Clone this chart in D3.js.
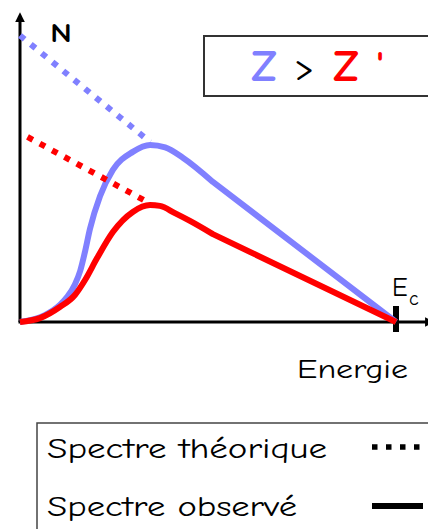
<!DOCTYPE html>
<html>
<head>
<meta charset="utf-8">
<script src="https://cdn.jsdelivr.net/npm/d3@7"></script>
<style>
  body { margin: 0; background: #fff; }
  svg { display: block; }
</style>
</head>
<body>
<div id="chart"></div>
<script>
// energy in % of Ec, N in arbitrary units (0..100)
var blueObserved = [
    [0, 0], [6.6, 2.3], [10.6, 5.7], [12.5, 8.3], [14.6, 12.5], [16, 17],
    [17.3, 23.5], [18.6, 31], [21.3, 42], [24.7, 50.7], [30, 56.7],
    [34.6, 59], [38.6, 58.2], [43.4, 54.7], [51.3, 46.7], [100, 0]
];
var redObserved = [
    [0, 0], [5.3, 1.3], [10.6, 5], [14.6, 9], [17.3, 14], [20.5, 21.3],
    [24.7, 30], [30, 36.7], [34.6, 39], [37.2, 38.7], [41.2, 36.3],
    [45.2, 33.7], [51.3, 29.3], [100, 0]
];
var blueTheoretical = [[0, 95.5], [34.6, 60]];
var redTheoretical = [[2, 61.7], [34.6, 39.5]];
var legendLabels = ["Spectre théorique", "Spectre observé"];
var xLabel = "Energie";
var yLabel = "N";

(function() {
    var width = 428,
        height = 529;

    var font = "'Comic Sans MS','Comic Neue','DejaVu Sans',sans-serif";
    var blue = "#8080ff",
        red = "#ff0000";

    var svg = d3.select("#chart")
        .append("svg")
        .attr("width", width)
        .attr("height", height);

    var x = d3.scaleLinear().domain([0, 100]).range([20, 396]);
    var y = d3.scaleLinear().domain([0, 100]).range([322, 22]);

    var line = d3.line()
        .x(function(d) { return x(d[0]); })
        .y(function(d) { return y(d[1]); });

    var curve = d3.line()
        .x(function(d) { return x(d[0]); })
        .y(function(d) { return y(d[1]); })
        .curve(d3.curveMonotoneX);

    // smooth rise, then a straight drop down to Ec
    var spectrum = function(data) {
        var last = data[data.length - 1];
        return curve(data.slice(0, -1)) + "L" + x(last[0]) + "," + y(last[1]);
    };

    // arrow head for the axes
    svg.append("defs").append("marker")
        .attr("id", "arrow")
        .attr("viewBox", "0 0 10 10")
        .attr("refX", 2)
        .attr("refY", 5)
        .attr("markerWidth", 3.2)
        .attr("markerHeight", 3.2)
        .attr("orient", "auto")
        .append("path")
        .attr("d", "M0,0 L10,5 L0,10 Z")
        .style("fill", "#000");

    // axes
    svg.append("line")
        .attr("x1", x(0)).attr("y1", y(0))
        .attr("x2", x(0)).attr("y2", 20)
        .style("stroke", "#000")
        .style("stroke-width", 3)
        .attr("marker-end", "url(#arrow)");

    svg.append("line")
        .attr("x1", x(0) - 1.5).attr("y1", y(0))
        .attr("x2", 427).attr("y2", y(0))
        .style("stroke", "#000")
        .style("stroke-width", 3)
        .attr("marker-end", "url(#arrow)");

    // Ec tick
    svg.append("line")
        .attr("x1", x(100)).attr("y1", y(0) - 16)
        .attr("x2", x(100)).attr("y2", y(0) + 10)
        .style("stroke", "#000")
        .style("stroke-width", 6);

    // theoretical (dotted)
    svg.append("path")
        .attr("d", line(blueTheoretical))
        .style("fill", "none")
        .style("stroke", blue)
        .style("stroke-width", 6)
        .style("stroke-dasharray", "6,8");

    // observed curves
    svg.append("path")
        .attr("d", spectrum(blueObserved))
        .style("fill", "none")
        .style("stroke", blue)
        .style("stroke-width", 6)
        .style("stroke-linejoin", "round");

    svg.append("path")
        .attr("d", line(redTheoretical))
        .style("fill", "none")
        .style("stroke", red)
        .style("stroke-width", 6)
        .style("stroke-dasharray", "6,8");

    svg.append("path")
        .attr("d", spectrum(redObserved))
        .style("fill", "none")
        .style("stroke", red)
        .style("stroke-width", 6)
        .style("stroke-linejoin", "round");

    // axis labels
    svg.append("text")
        .attr("x", 50).attr("y", 42)
        .attr("textLength", 22)
        .attr("lengthAdjust", "spacingAndGlyphs")
        .style("font-family", font)
        .style("font-size", "27px")
        .style("font-weight", "bold")
        .text(yLabel);

    svg.append("text")
        .attr("x", 297).attr("y", 378)
        .attr("textLength", 111)
        .attr("lengthAdjust", "spacingAndGlyphs")
        .style("font-family", font)
        .style("font-size", "27px")
        .text(xLabel);

    var ec = svg.append("text")
        .attr("x", 392).attr("y", 296)
        .style("font-family", font)
        .style("font-size", "26px");
    ec.append("tspan").text("E");
    ec.append("tspan")
        .attr("x", 409).attr("y", 305)
        .style("font-size", "20px")
        .text("c");

    // Z > Z' box
    svg.append("rect")
        .attr("x", 204).attr("y", 36)
        .attr("width", 250).attr("height", 60)
        .style("fill", "#fff")
        .style("stroke", "#333")
        .style("stroke-width", 2);

    var zParts = [
        { t: "Z", cx: 264, c: blue, w: "bold", s: 44, dy: 81 },
        { t: ">", cx: 304, c: "#000", w: "normal", s: 38, dy: 80 },
        { t: "Z", cx: 346, c: red, w: "bold", s: 44, dy: 81 },
        { t: "'", cx: 380, c: red, w: "bold", s: 38, dy: 78 }
    ];
    svg.selectAll("text.z")
        .data(zParts)
        .enter()
        .append("text")
        .attr("class", "z")
        .attr("x", function(d) { return d.cx; })
        .attr("y", function(d) { return d.dy; })
        .attr("text-anchor", "middle")
        .style("font-family", font)
        .style("font-size", function(d) { return d.s + "px"; })
        .style("font-weight", function(d) { return d.w; })
        .style("fill", function(d) { return d.c; })
        .text(function(d) { return d.t; });

    // legend
    var legend = svg.append("g");
    legend.append("rect")
        .attr("x", 37).attr("y", 423)
        .attr("width", 420).attr("height", 140)
        .style("fill", "#fff")
        .style("stroke", "#444")
        .style("stroke-width", 1.5);

    legend.selectAll("text")
        .data(legendLabels)
        .enter()
        .append("text")
        .attr("x", 47)
        .attr("y", function(d, i) { return 458 + i * 58; })
        .attr("textLength", function(d, i) { return i === 0 ? 280 : 250; })
        .attr("lengthAdjust", "spacingAndGlyphs")
        .style("font-family", font)
        .style("font-size", "28px")
        .text(function(d) { return d; });

    legend.append("line")
        .attr("x1", 372).attr("y1", 447)
        .attr("x2", 421).attr("y2", 447)
        .style("stroke", "#000")
        .style("stroke-width", 5.5)
        .style("stroke-dasharray", "5.5,8.5");

    legend.append("line")
        .attr("x1", 372).attr("y1", 506)
        .attr("x2", 423).attr("y2", 506)
        .style("stroke", "#000")
        .style("stroke-width", 6);
})();
</script>
</body>
</html>
